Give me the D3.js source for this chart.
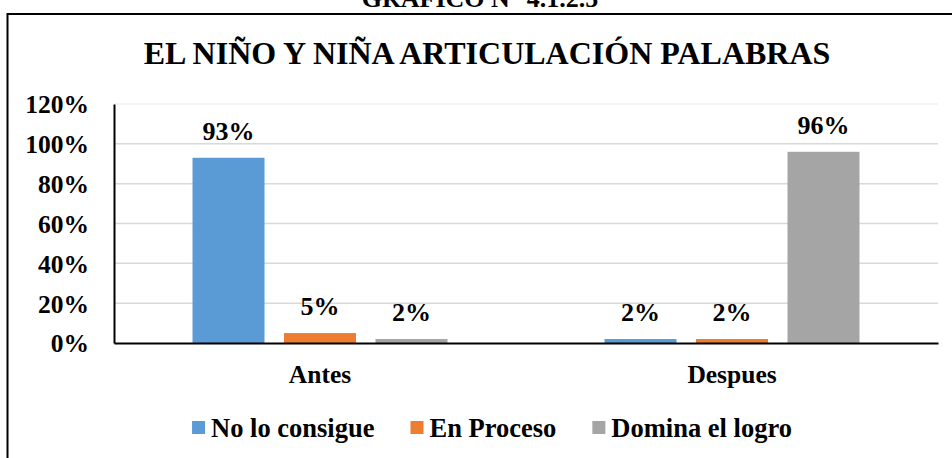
<!DOCTYPE html>
<html>
<head>
<meta charset="utf-8">
<script src="https://cdn.jsdelivr.net/npm/d3@7"></script>
<style>
  body { margin: 0; background: #fff; }
  text { font-family: "Liberation Serif", "Times New Roman", serif; font-weight: bold; fill: #000; }
</style>
</head>
<body>
<div id="chart"></div>
<script>
// Data
const categories = ["Antes", "Despues"];
const seriesNames = ["No lo consigue", "En Proceso", "Domina el logro"];
const noLoConsigue = [0.93, 0.02];
const enProceso = [0.05, 0.02];
const dominaLogro = [0.02, 0.96];
const yTicks = [0, 0.2, 0.4, 0.6, 0.8, 1.0, 1.2];
const colors = ["#5B9BD5", "#ED7D31", "#A5A5A5"];

const seriesValues = [noLoConsigue, enProceso, dominaLogro];

const width = 952;
const height = 458;

const svg = d3.select("#chart")
  .append("svg")
  .attr("width", width)
  .attr("height", height);

// outer frame (runs off the right and bottom edge)
svg.append("path")
  .attr("d", "M7.5,470 L7.5,14 L960,14")
  .attr("fill", "none")
  .attr("stroke", "#000")
  .attr("stroke-width", 2);

// caption above the frame, cut by the top edge like in the source
svg.append("text")
  .attr("x", 480)
  .attr("y", 7)
  .attr("text-anchor", "middle")
  .style("font-size", "26px")
  .text("GRAFICO N° 4.1.2.5");

// chart title
svg.append("text")
  .attr("x", 487)
  .attr("y", 64)
  .attr("text-anchor", "middle")
  .style("font-size", "32px")
  .text("EL NIÑO Y NIÑA ARTICULACIÓN PALABRAS");

// scales
const plotLeft = 114, plotRight = 938, plotTop = 104, plotBottom = 343;

const x0 = d3.scaleBand()
  .domain(categories)
  .range([plotLeft, plotRight]);

const x1 = d3.scaleBand()
  .domain(seriesNames)
  .range([0, x0.bandwidth()])
  .paddingInner(0.213)
  .paddingOuter(0.858);

const y = d3.scaleLinear()
  .domain([0, 1.2])
  .range([plotBottom, plotTop]);

// gridlines
svg.append("g")
  .selectAll("line")
  .data(yTicks.filter(d => d > 0))
  .enter()
  .append("line")
  .attr("x1", plotLeft)
  .attr("x2", plotRight)
  .attr("y1", d => y(d))
  .attr("y2", d => y(d))
  .attr("stroke", d => d === 1.2 ? "#f0f0f0" : "#d9d9d9")
  .attr("stroke-width", 1.5);

// bars
const groups = svg.append("g")
  .selectAll("g")
  .data(seriesNames)
  .enter()
  .append("g")
  .attr("fill", (d, i) => colors[i]);

groups.selectAll("rect")
  .data((s, i) => categories.map((c, j) => ({ cat: c, ser: s, v: seriesValues[i][j] })))
  .enter()
  .append("rect")
  .attr("x", d => x0(d.cat) + x1(d.ser))
  .attr("y", d => y(d.v))
  .attr("width", x1.bandwidth())
  .attr("height", d => y(0) - y(d.v));

// value labels
groups.selectAll("text")
  .data((s, i) => categories.map((c, j) => ({ cat: c, ser: s, v: seriesValues[i][j] })))
  .enter()
  .append("text")
  .attr("x", d => x0(d.cat) + x1(d.ser) + x1.bandwidth() / 2)
  .attr("y", d => y(d.v) - 18)
  .attr("text-anchor", "middle")
  .style("font-size", "26px")
  .text(d => d3.format(".0%")(d.v));

// y axis
const yAxis = svg.append("g")
  .attr("transform", `translate(${plotLeft},0)`)
  .call(d3.axisLeft(y).tickValues(yTicks).tickFormat(d3.format(".0%")).tickSize(0).tickPadding(25));

yAxis.select(".domain").attr("stroke", "#000").attr("stroke-width", 2);
yAxis.selectAll("text")
  .attr("dy", "0.35em")
  .style("font-size", "25.5px")
  .style("font-family", "Liberation Serif")
  .style("font-weight", "bold");

// x axis
const xAxis = svg.append("g")
  .attr("transform", `translate(0,${plotBottom})`)
  .call(d3.axisBottom(x0).tickSize(0).tickSizeOuter(0));

xAxis.select(".domain").attr("stroke", "#000").attr("stroke-width", 2);
xAxis.selectAll("text")
  .attr("y", 40)
  .attr("dy", 0)
  .style("font-size", "25.5px")
  .style("font-family", "Liberation Serif")
  .style("font-weight", "bold");

// legend
const legend = svg.append("g");
let lx = 0;
seriesNames.forEach((name, i) => {
  const item = legend.append("g").attr("transform", `translate(${lx},0)`);
  item.append("rect")
    .attr("x", 0)
    .attr("y", 421)
    .attr("width", 13)
    .attr("height", 13)
    .attr("fill", colors[i]);
  const t = item.append("text")
    .attr("x", 19)
    .attr("y", 437)
    .style("font-size", "26.5px")
    .text(name);
  lx += 19 + t.node().getComputedTextLength() + 36;
});
const legendWidth = lx - 36;
legend.attr("transform", `translate(${492 - legendWidth / 2},0)`);
</script>
</body>
</html>
